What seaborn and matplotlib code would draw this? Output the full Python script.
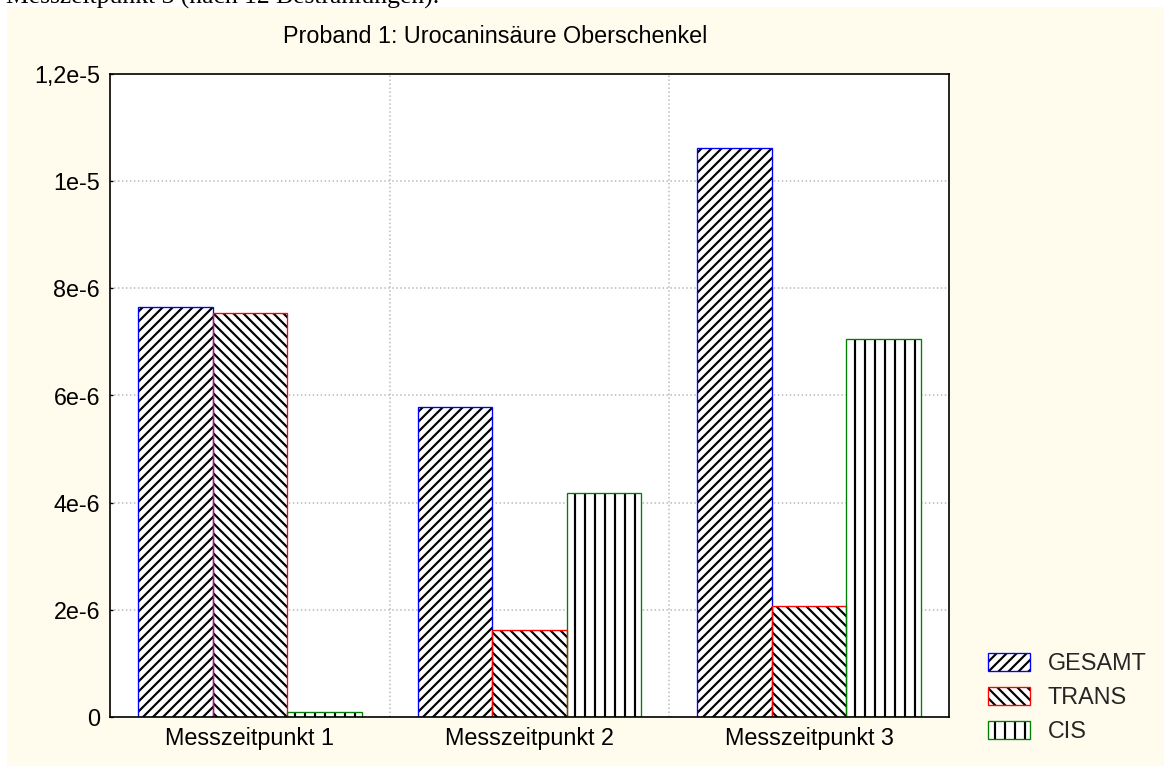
import numpy as np
import pandas as pd
import matplotlib
matplotlib.use('Agg')
import matplotlib.pyplot as plt
import seaborn as sns
from matplotlib.patches import Patch, Rectangle

# values
zeitpunkte = ['Messzeitpunkt 1', 'Messzeitpunkt 2', 'Messzeitpunkt 3']
serien = ['GESAMT', 'TRANS', 'CIS']
gesamt = [7.65e-6, 5.79e-6, 1.062e-5]
trans = [7.54e-6, 1.62e-6, 2.07e-6]
cis = [0.09e-6, 4.18e-6, 7.05e-6]
yticks = [0, 2e-6, 4e-6, 6e-6, 8e-6, 1e-5, 1.2e-5]
ytick_labels = ['0', '2e-6', '4e-6', '6e-6', '8e-6', '1e-5', '1,2e-5']

kanten = ['#0000ff', '#ff0000', '#008000']   # bar outline colours
muster = ['////', '\\\\\\\\', '||']          # hatch per series

df = pd.DataFrame({'zeitpunkt': zeitpunkte * 3,
                   'serie': np.repeat(serien, 3),
                   'wert': gesamt + trans + cis})

sns.set_theme(style='white')
plt.rcParams['font.family'] = ['Liberation Sans', 'DejaVu Sans']
plt.rcParams['hatch.linewidth'] = 1.3

W, H = 1164, 766
fig = plt.figure(figsize=(W / 120, 766.4 / 120), dpi=120, facecolor='white')
# pale yellow panel behind everything
fig.add_artist(Rectangle((7 / W, 0), 1 - 7 / W, 1 - 7 / H, transform=fig.transFigure,
                         facecolor='#fffcee', edgecolor='none', zorder=-10))

ax = fig.add_axes([110 / W, 49 / H, 839 / W, 643 / H])
ax.set_facecolor('white')

# hatched layer (black hatch lines)
sns.barplot(data=df, x='zeitpunkt', y='wert', hue='serie', order=zeitpunkte,
            hue_order=serien, palette={s: 'white' for s in serien}, saturation=1,
            edgecolor='black', linewidth=0, width=0.8, errorbar=None,
            legend=False, ax=ax)
for cont, h in zip(ax.containers, muster):
    for bar in cont:
        bar.set_hatch(h)

# coloured outlines on top
sns.barplot(data=df, x='zeitpunkt', y='wert', hue='serie', order=zeitpunkte,
            hue_order=serien, palette=dict(zip(serien, kanten)), saturation=1,
            fill=False, linewidth=0.8, width=0.8, errorbar=None,
            legend=False, ax=ax)

ax.set_xlim(-0.5, 2.5)
ax.set_ylim(0, 1.2e-5)
ax.set_yticks(yticks, ytick_labels)
ax.set_xticks([0.5, 1.5], ['', ''])
ax.set_xticks([0, 1, 2], zeitpunkte, minor=True)
ax.set_xlabel('')
ax.set_ylabel('')
ax.tick_params(axis='x', which='minor', length=0, pad=6, labelsize=14, colors='black')
ax.tick_params(axis='x', which='major', direction='in', length=2, width=0.8, color='black')
ax.tick_params(axis='y', direction='in', length=2, width=0.8, pad=6, labelsize=14,
               color='black', labelcolor='black', left=True)
ax.grid(True, which='major', linestyle=':', color='#b8b8b8', linewidth=0.9)
ax.set_axisbelow(True)
for sp in ax.spines.values():
    sp.set_visible(True)
    sp.set_color('black')
    sp.set_linewidth(1.0)

fig.text(283 / W, 1 - 43 / H, 'Proband 1: Urocaninsäure Oberschenkel',
         fontsize=14, ha='left', va='baseline', color='black')
# caption line of the surrounding document, cut off at the top
fig.text(6 / W, 1 - 4 / H, 'Messzeitpunkt 3 (nach 12 Bestrahlungen).',
         family='Liberation Serif', fontsize=15.4, ha='left', va='baseline', color='black')

handles = []
for h, k in zip(muster, kanten):
    handles.append((Patch(facecolor='white', edgecolor='black', linewidth=0, hatch=h),
                    Patch(fill=False, edgecolor=k, linewidth=0.8)))
fig.legend(handles, serien, loc='upper left', bbox_to_anchor=(988 / W, 1 - 652 / H),
           frameon=False, fontsize=14, borderpad=0, borderaxespad=0,
           handlelength=1.8, handleheight=0.82, handletextpad=0.77, labelspacing=0.47)

fig.savefig('out.png', dpi=120)
